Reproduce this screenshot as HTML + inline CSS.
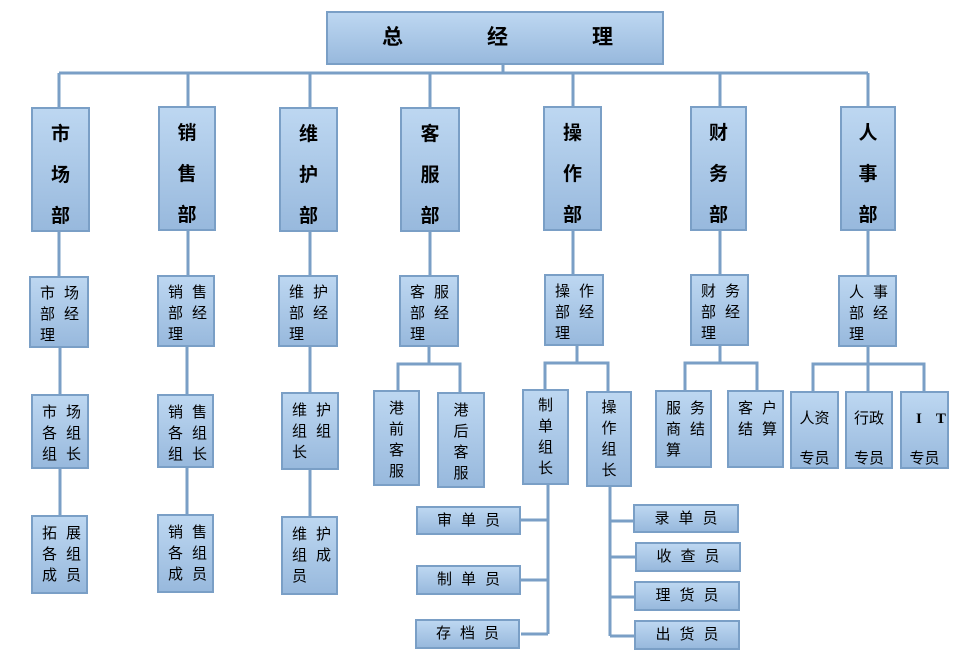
<!DOCTYPE html>
<html><head><meta charset="utf-8"><style>
body{margin:0;width:976px;height:653px;background:#fff;position:relative;overflow:hidden;font-family:"Liberation Sans","Noto Sans CJK SC","WenQuanYi Zen Hei",sans-serif;color:#000}
.b{position:absolute;box-sizing:border-box;border:2px solid #7a9fc6;background:linear-gradient(#bdd7f1,#98b9dd);font-size:15px;line-height:21px;white-space:nowrap}
.d{font-weight:bold;font-size:19px;text-align:center;line-height:41px;padding-top:5px}
.m{padding:5px 0 0 9px;letter-spacing:9px}
.v{text-align:center;padding-top:6px;font-size:15px}
.h{text-align:center;letter-spacing:9px;padding-left:9px;line-height:26px;font-size:15px}
svg{position:absolute;left:0;top:0}
</style></head><body>
<svg width="976" height="653"><g stroke="#7a9fc6" stroke-width="3" fill="none">
<path d="M503 65V73M59 73H868M59 73V107M188 73V106M310 73V107M430 73V107M573 73V106M720 73V106M868 73V106"/>
<path d="M59 232V276M188 231V275M310 232V275M430 232V275M573 231V274M720 231V274M868 231V275"/>
<path d="M60 348V394M187 347V394M310 347V392M60 469V515M187 468V514M310 470V516"/>
<path d="M429 347V364M398 390V364H460V392"/>
<path d="M577 346V363M545 389V363H608V391"/>
<path d="M720 346V363M685 390V363H757V390"/>
<path d="M868 347V364M813 391V364H924V391M868 364V391"/>
<path d="M548 485V634M521 520H548M521 580H548M521 634H548"/>
<path d="M610 487V636M610 521H634M610 557H636M610 597H634M610 636H634"/>
</g></svg>
<div class="b" style="left:326px;top:11px;width:338px;height:54px;font-weight:bold;font-size:21px;line-height:50px"><span style="position:absolute;left:54px">总</span><span style="position:absolute;left:159px">经</span><span style="position:absolute;left:264px">理</span></div>

<div class="b d" style="left:31px;top:107px;width:59px;height:125px">市<br>场<br>部</div>
<div class="b d" style="left:158px;top:106px;width:58px;height:125px">销<br>售<br>部</div>
<div class="b d" style="left:279px;top:107px;width:59px;height:125px">维<br>护<br>部</div>
<div class="b d" style="left:400px;top:107px;width:60px;height:125px">客<br>服<br>部</div>
<div class="b d" style="left:543px;top:106px;width:59px;height:125px">操<br>作<br>部</div>
<div class="b d" style="left:690px;top:106px;width:57px;height:125px">财<br>务<br>部</div>
<div class="b d" style="left:840px;top:106px;width:56px;height:125px">人<br>事<br>部</div>

<div class="b m" style="left:29px;top:276px;width:60px;height:72px">市场<br>部经<br>理</div>
<div class="b m" style="left:157px;top:275px;width:58px;height:72px">销售<br>部经<br>理</div>
<div class="b m" style="left:278px;top:275px;width:60px;height:72px">维护<br>部经<br>理</div>
<div class="b m" style="left:399px;top:275px;width:60px;height:72px">客服<br>部经<br>理</div>
<div class="b m" style="left:544px;top:274px;width:60px;height:72px">操作<br>部经<br>理</div>
<div class="b m" style="left:690px;top:274px;width:59px;height:72px">财务<br>部经<br>理</div>
<div class="b m" style="left:838px;top:275px;width:59px;height:72px">人事<br>部经<br>理</div>

<div class="b m" style="left:31px;top:394px;width:58px;height:75px;padding-top:6px">市场<br>各组<br>组长</div>
<div class="b m" style="left:157px;top:394px;width:57px;height:74px;padding-top:6px">销售<br>各组<br>组长</div>
<div class="b m" style="left:281px;top:392px;width:58px;height:78px;padding-top:6px">维护<br>组组<br>长</div>
<div class="b v" style="left:373px;top:390px;width:47px;height:96px">港<br>前<br>客<br>服</div>
<div class="b v" style="left:437px;top:392px;width:48px;height:96px">港<br>后<br>客<br>服</div>
<div class="b v" style="left:522px;top:389px;width:47px;height:96px;padding-top:4px">制<br>单<br>组<br>长</div>
<div class="b v" style="left:586px;top:391px;width:46px;height:96px;padding-top:4px">操<br>作<br>组<br>长</div>
<div class="b m" style="left:655px;top:390px;width:57px;height:78px;padding-top:6px">服务<br>商结<br>算</div>
<div class="b m" style="left:727px;top:390px;width:57px;height:78px;padding-top:6px">客户<br>结算</div>
<div class="b" style="left:790px;top:391px;width:49px;height:78px;text-align:center;padding-top:6px;line-height:40px">人资<br>专员</div>
<div class="b" style="left:845px;top:391px;width:48px;height:78px;text-align:center;padding-top:6px;line-height:40px">行政<br>专员</div>
<div class="b" style="left:900px;top:391px;width:49px;height:78px;text-align:center;padding-top:6px;line-height:40px"><b style="font-family:'Liberation Serif',serif;letter-spacing:14px;padding-left:14px">IT</b><br>专员</div>

<div class="b m" style="left:31px;top:515px;width:57px;height:79px;padding-top:6px">拓展<br>各组<br>成员</div>
<div class="b m" style="left:157px;top:514px;width:57px;height:79px;padding-top:6px">销售<br>各组<br>成员</div>
<div class="b m" style="left:281px;top:516px;width:57px;height:79px;padding-top:6px">维护<br>组成<br>员</div>

<div class="b h" style="left:416px;top:506px;width:105px;height:29px">审单员</div>
<div class="b h" style="left:416px;top:565px;width:105px;height:30px">制单员</div>
<div class="b h" style="left:415px;top:619px;width:105px;height:30px">存档员</div>
<div class="b h" style="left:633px;top:504px;width:106px;height:29px">录单员</div>
<div class="b h" style="left:635px;top:542px;width:106px;height:30px">收查员</div>
<div class="b h" style="left:634px;top:581px;width:106px;height:30px">理货员</div>
<div class="b h" style="left:634px;top:620px;width:106px;height:30px">出货员</div>
</body></html>
